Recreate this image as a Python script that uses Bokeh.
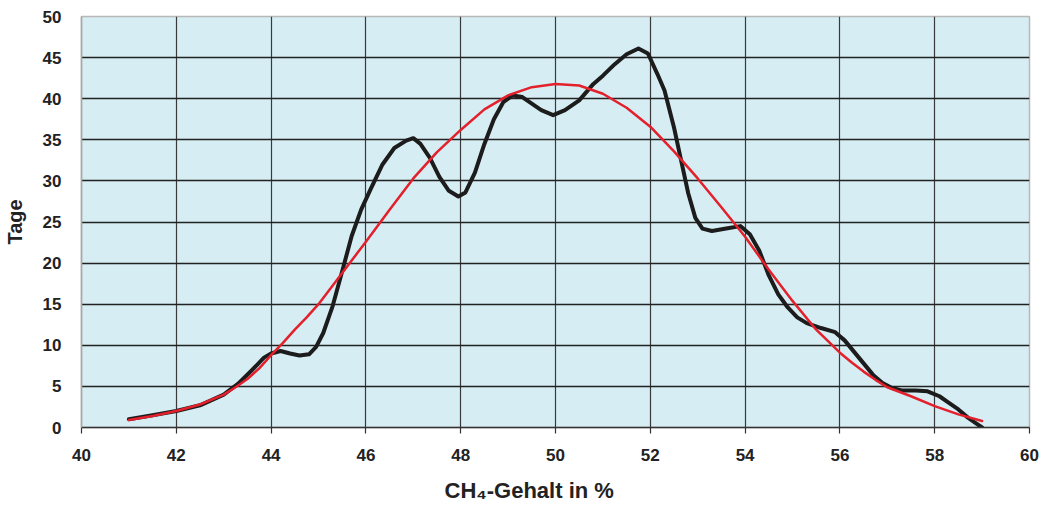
from bokeh.plotting import figure
from bokeh.embed import file_html
from bokeh.resources import INLINE
from bokeh.models import FixedTicker, Range1d, Title

# Measured distribution: days per methane content class
ch4_measured = [41.0, 41.5, 42.0, 42.5, 43.0, 43.3, 43.6, 43.85, 44.0, 44.2, 44.4, 44.6, 44.8,
                44.95, 45.1, 45.3, 45.5, 45.7, 45.9, 46.1, 46.35, 46.6, 46.85, 47.0, 47.15,
                47.35, 47.55, 47.75, 47.95, 48.1, 48.3, 48.5, 48.7, 48.9, 49.1, 49.3, 49.5,
                49.7, 49.95, 50.2, 50.5, 50.8, 51.0, 51.25, 51.5, 51.75, 51.95, 52.15, 52.3,
                52.5, 52.65, 52.8, 52.95, 53.1, 53.3, 53.6, 53.9, 54.1, 54.3, 54.5, 54.7,
                54.9, 55.1, 55.3, 55.6, 55.9, 56.1, 56.3, 56.5, 56.7, 56.9, 57.1, 57.3, 57.6,
                57.85, 58.1, 58.3, 58.5, 58.7, 58.85, 59.0]
tage_measured = [1.0, 1.5, 2.0, 2.7, 4.0, 5.3, 7.0, 8.5, 9.0, 9.3, 9.0, 8.75, 8.9,
                 9.8, 11.5, 14.8, 19.0, 23.3, 26.5, 29.0, 32.0, 34.0, 34.9, 35.2, 34.5,
                 32.8, 30.5, 28.8, 28.1, 28.6, 31.0, 34.5, 37.5, 39.6, 40.4, 40.2, 39.4,
                 38.6, 38.0, 38.6, 39.8, 41.8, 42.8, 44.2, 45.4, 46.1, 45.5, 43.0, 41.0,
                 36.5, 32.5, 28.5, 25.5, 24.2, 23.9, 24.2, 24.5, 23.5, 21.5, 18.5, 16.2,
                 14.6, 13.4, 12.7, 12.1, 11.6, 10.6, 9.2, 7.8, 6.4, 5.4, 4.8, 4.5, 4.5,
                 4.4, 3.8, 3.0, 2.2, 1.2, 0.6, 0.0]

# Fitted (normal) distribution
ch4_fit = [41.0, 41.5, 42.0, 42.5, 43.0, 43.25, 43.5, 43.75, 44.0, 44.25, 44.5, 44.75,
           45.0, 45.5, 46.0, 46.5, 47.0, 47.5, 48.0, 48.5, 49.0, 49.5, 50.0, 50.5, 51.0,
           51.5, 52.0, 52.5, 53.0, 53.5, 54.0, 54.5, 55.0, 55.5, 56.0, 56.25, 56.5, 56.75,
           57.0, 57.5, 58.0, 58.5, 59.0]
tage_fit = [0.9, 1.4, 2.0, 2.8, 4.0, 4.9, 5.9, 7.2, 8.8, 10.3, 11.9, 13.4,
            15.0, 18.8, 22.6, 26.5, 30.3, 33.5, 36.2, 38.7, 40.4, 41.4, 41.8, 41.6, 40.6,
            38.9, 36.6, 33.6, 30.3, 26.8, 23.2, 19.2, 15.4, 11.9, 9.1, 7.9, 6.8, 5.8,
            4.9, 3.8, 2.6, 1.6, 0.8]

x_ticks = [40, 42, 44, 46, 48, 50, 52, 54, 56, 58, 60]
y_ticks = [0, 5, 10, 15, 20, 25, 30, 35, 40, 45, 50]

FONT = "Liberation Sans"
TXT = "#222222"

p = figure(width=1044, height=515, output_backend="svg", toolbar_location=None,
           x_range=Range1d(40, 60), y_range=Range1d(0, 50),
           min_border_left=78, min_border_right=15, min_border_top=16, min_border_bottom=86,
           y_axis_label="Tage")

p.background_fill_color = "#d6edf3"
p.border_fill_color = "white"
p.outline_line_color = "#b8b8b8"
p.outline_line_width = 1.5

p.xaxis.ticker = FixedTicker(ticks=x_ticks)
p.yaxis.ticker = FixedTicker(ticks=y_ticks)
p.xaxis.minor_tick_line_color = None
p.yaxis.minor_tick_line_color = None

for ax in (p.xaxis, p.yaxis):
    ax.major_label_text_font = FONT
    ax.major_label_text_font_style = "bold"
    ax.major_label_text_font_size = "17px"
    ax.major_label_text_color = TXT

p.yaxis.axis_label_text_font = FONT
p.yaxis.axis_label_text_font_style = "bold"
p.yaxis.axis_label_text_font_size = "20px"
p.yaxis.axis_label_text_color = TXT

p.xaxis.axis_line_color = "#333333"
p.xaxis.axis_line_width = 1.5
p.xaxis.major_tick_line_color = "#333333"
p.xaxis.major_tick_line_width = 1.2
p.xaxis.major_tick_out = 6
p.xaxis.major_tick_in = 0
p.xaxis.major_label_standoff = 15

p.yaxis.axis_line_color = "#a8a8a8"
p.yaxis.axis_line_width = 1.5
p.yaxis.major_tick_line_color = None
p.yaxis.major_label_standoff = 14
p.yaxis.axis_label_standoff = 14

p.xgrid.grid_line_color = "#3a3a3a"
p.xgrid.grid_line_width = 1.2
p.ygrid.grid_line_color = "#222222"
p.ygrid.grid_line_width = 1.4

# x-axis caption, set a little left of the frame centre
p.add_layout(Title(text="CH\u2084-Gehalt in %", align="left", offset=363, standoff=25,
                   text_font=FONT, text_font_style="bold", text_font_size="22px",
                   text_color=TXT), "below")

p.line(ch4_measured, tage_measured, line_color="#1c1c1c", line_width=4,
       line_join="round", line_cap="round")
p.line(ch4_fit, tage_fit, line_color="#e3202b", line_width=2.5,
       line_join="round", line_cap="round")

open("out.html", "w").write(file_html(p, INLINE))
